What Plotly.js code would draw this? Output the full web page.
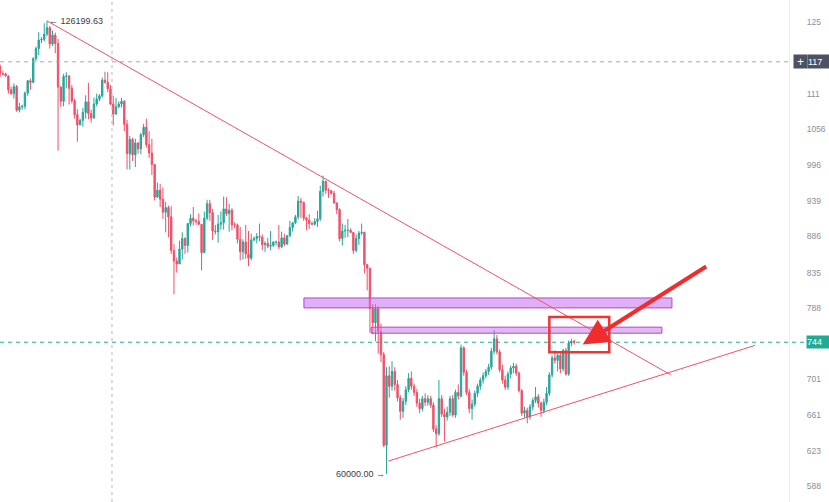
<!DOCTYPE html>
<html>
<head>
<meta charset="utf-8">
<script src="https://cdn.plot.ly/plotly-3.0.1.min.js"></script>
<style>html,body{margin:0;padding:0;background:#fff;}#chart{width:829px;height:502px;}</style>
</head>
<body>
<div id="chart"></div>
<script>
// Daily BTC candles, prices in thousands of USD, first candle 2025-09-19
const firstDay = '2025-09-19';
const openK = [
117.1,115.7,115.7,115.3,112.7,112.0,113.3,109.0,109.6,109.7,112.1,114.4,
114.1,118.6,120.6,122.3,122.4,123.5,124.8,121.5,123.3,121.6,113.2,110.6,115.2,115.3,113.0,110.7,108.2,106.4,107.2,108.6,110.5,108.4,107.6,110.1,111.0,111.6,114.5,114.1,112.9,110.1,108.3,
109.6,110.1,110.6,106.5,101.5,103.9,101.3,103.3,102.3,104.7,106.0,103.0,101.6,99.7,94.5,95.6,94.2,92.2,92.9,91.5,86.6,85.1,84.7,86.8,88.3,87.3,90.5,91.3,90.9,90.8,
90.4,86.3,91.3,93.5,92.1,89.4,89.3,90.4,90.6,92.7,92.0,92.5,90.3,90.3,88.2,86.4,87.8,86.1,85.5,88.1,88.3,88.6,88.5,87.4,87.6,87.2,87.3,87.8,87.8,87.1,88.4,
87.5,88.7,89.9,90.6,91.5,93.9,93.7,91.3,91.0,90.5,90.4,90.8,91.2,95.4,97.0,95.6,95.5,95.1,93.6,92.6,88.3,89.4,89.5,89.5,89.2,86.6,88.3,89.1,89.2,84.6,84.1,
78.7,76.9,78.7,75.8,73.0,62.9,70.5,69.3,71.0,69.5,68.0,66.5,67.6,68.9,70.2,69.3,68.6,67.4,66.8,67.9,67.5,67.9,67.2,64.6,64.1,67.9,66.2,65.9,
66.4,67.9,66.1,68.6,68.2,73.8,70.9,68.6,66.8,67.3,68.5,69.3,70.0,70.5,71.0,71.5,73.4,74.9,73.3,71.2,70.0,69.2,70.7,71.4,71.6,70.8,68.8,66.3,66.6,65.9,67.0,
67.7,68.1,67.4,66.6,67.5,68.5,70.6,72.6,72.3,72.9,71.3,73.5,70.7,74.4,74.6
];
const highK = [
117.5,116.3,115.9,115.4,113.3,113.9,113.6,110.3,110.0,112.4,114.5,114.8,
118.9,121.0,123.9,122.9,125.7,126.19963,125.1,124.2,123.8,122.5,113.4,115.7,116.0,115.5,113.6,111.1,109.2,107.5,109.4,111.7,114.0,109.1,111.3,112.0,111.9,115.0,116.1,116.0,113.6,111.6,111.2,
110.6,111.2,110.8,107.3,104.5,104.2,104.0,103.4,105.0,106.6,107.5,105.3,104.0,99.8,96.8,96.6,96.0,93.8,93.2,93.1,87.5,85.6,88.0,89.2,88.5,90.6,91.9,93.0,91.2,92.0,
90.4,92.3,94.1,94.1,92.7,90.3,91.8,92.3,94.6,94.5,93.5,92.8,90.7,90.5,90.0,88.2,90.3,89.4,89.0,88.6,89.1,90.5,88.9,87.9,88.4,89.4,87.9,88.0,90.3,89.3,89.0,
88.8,90.9,90.7,91.8,94.7,94.4,93.8,91.5,91.9,90.8,91.3,92.4,96.3,97.9,97.1,95.9,95.6,95.5,93.7,92.8,90.5,90.3,91.2,89.8,89.2,88.9,89.4,90.5,89.3,84.7,84.2,
79.3,79.3,79.0,76.8,73.3,71.5,71.6,72.2,71.5,70.0,68.3,68.0,69.3,70.8,71.0,69.6,69.0,67.9,68.2,68.5,68.3,68.2,67.5,65.0,70.0,68.3,66.8,67.0,
68.2,68.3,68.9,69.5,74.2,74.0,71.2,69.0,67.8,68.8,69.6,70.3,70.9,71.3,71.9,73.8,76.0,75.4,73.6,71.8,70.5,71.0,71.7,72.0,71.9,71.0,69.0,67.0,66.9,67.3,68.0,
69.2,68.4,67.6,67.9,69.2,70.9,72.9,73.5,73.1,73.4,73.7,73.8,74.7,74.9,74.8
];
const lowK = [
115.1,115.4,115.2,112.0,111.8,111.1,108.7,108.6,109.1,109.2,111.6,112.7,
113.9,118.2,119.3,121.7,122.0,123.1,120.6,121.1,119.7,102.0,109.6,109.7,113.0,110.0,110.2,107.5,103.5,106.4,106.1,107.5,107.4,106.8,107.5,109.7,110.6,111.3,113.9,112.3,109.9,106.3,108.2,
109.4,109.5,105.3,98.9,98.9,100.3,99.3,101.5,101.4,104.3,102.5,100.8,98.0,94.0,94.5,93.0,91.2,89.2,88.5,86.1,80.6,83.5,84.7,85.3,86.1,86.3,90.1,90.2,90.3,90.3,
83.8,86.2,91.0,90.9,88.1,88.9,87.7,89.6,89.6,91.6,89.3,89.5,89.8,87.6,85.2,85.3,85.4,84.4,85.2,87.9,87.6,87.9,86.6,86.4,86.9,86.6,87.1,87.3,86.8,86.9,87.2,
87.4,88.5,89.3,90.4,91.1,91.3,90.9,89.5,89.7,90.3,90.2,90.0,90.9,94.6,95.0,94.4,94.9,93.5,91.9,87.9,87.3,88.4,88.5,89.1,86.1,86.3,87.4,88.8,83.4,81.1,75.7,
75.5,74.6,73.1,72.1,62.7,60.0,68.0,68.8,68.8,67.6,65.6,65.8,67.2,68.6,68.9,68.2,67.0,66.3,66.5,67.1,67.1,66.9,64.3,62.7,63.9,65.9,63.3,65.5,
66.0,65.9,65.8,67.8,68.0,70.5,68.3,66.3,65.6,67.0,68.1,68.9,69.6,70.2,70.6,71.2,73.0,73.0,70.9,69.6,68.9,68.9,70.2,70.8,70.5,68.6,66.0,65.8,65.2,65.6,66.6,
67.4,66.9,65.9,66.3,67.2,68.2,70.3,71.9,71.0,70.8,71.0,70.5,70.5,74.0,74.2
];
const closeK = [
115.7,115.7,115.3,112.7,112.0,113.3,109.0,109.6,109.7,112.1,114.4,114.1,
118.6,120.6,122.3,122.4,123.5,124.8,121.5,123.3,121.6,113.2,110.6,115.2,115.3,113.0,110.7,108.2,106.4,107.2,108.6,110.5,108.4,107.6,110.1,111.0,111.6,114.5,114.1,112.9,110.1,108.3,109.6,
110.1,110.6,106.5,101.5,103.9,101.3,103.3,102.3,104.7,106.0,103.0,101.6,99.7,94.5,95.6,94.2,92.2,92.9,91.5,86.6,85.1,84.7,86.8,88.3,87.3,90.5,91.3,90.9,90.8,90.4,
86.3,91.3,93.5,92.1,89.4,89.3,90.4,90.6,92.7,92.0,92.5,90.3,90.3,88.2,86.4,87.8,86.1,85.5,88.1,88.3,88.6,88.5,87.4,87.6,87.2,87.3,87.8,87.8,87.1,88.4,87.5,
88.7,89.9,90.6,91.5,93.9,93.7,91.3,91.0,90.5,90.4,90.8,91.2,95.4,97.0,95.6,95.5,95.1,93.6,92.6,88.3,89.4,89.5,89.5,89.2,86.6,88.3,89.1,89.2,84.6,84.1,78.7,
76.9,78.7,75.8,73.0,62.9,70.5,69.3,71.0,69.5,68.0,66.5,67.6,68.9,70.2,69.3,68.6,67.4,66.8,67.9,67.5,67.9,67.2,64.6,64.1,67.9,66.2,65.9,66.4,
67.9,66.1,68.6,68.2,73.8,70.9,68.6,66.8,67.3,68.5,69.3,70.0,70.5,71.0,71.5,73.4,74.9,73.3,71.2,70.0,69.2,70.7,71.4,71.6,70.8,68.8,66.3,66.6,65.9,67.0,67.7,
68.1,67.4,66.6,67.5,68.5,70.6,72.6,72.3,72.9,71.3,73.5,70.7,74.4,74.6,74.48
];

// Price-scale tick labels (right axis) as they are visible at the chart's right edge
const tickValsK = [125.9,111.9,105.6,99.6,93.9,88.6,83.5,78.8,70.1,66.1,62.3,58.8];
const tickText  = ['125','111','1056','996','939','886','835','788','701','661','623','588'];

// Drawings
const highLabel = {date:'2025-10-06', price:126.19963, text:'← 126199.63'};
const lowLabel  = {date:'2026-02-06', price:60.0, text:'60000.00 →'};
const trendDownX = ['2025-10-06','2026-05-20'];
const trendDownY = [126.19963, 70.6];
const trendUpX = ['2026-02-06 16:00','2026-06-19 12:00'];
const trendUpY = [61.29, 74.1];
const zoneUpperX = ['2026-01-07 02:00','2026-05-20 10:00'];
const zoneUpperY = [78.8, 80.1];
const zoneLowerX = ['2026-01-31 10:00','2026-05-16 19:00'];
const zoneLowerY = [75.6, 76.35];
const focusBoxX = ['2026-04-06 00:00','2026-04-27 17:00'];
const focusBoxY = [73.27, 77.63];
const arrowTip = {date:'2026-04-18 02:00', price:74.2};
const crossDate = '2025-10-29 13:00';
const crossPrice = 118.0;
const crossPriceText = '117';
const lastPrice = 74.48;
const lastPriceText = '744';

const dates = [];
const t0 = Date.parse(firstDay + 'T00:00:00Z');
for (let i = 0; i < closeK.length; i++) {
  dates.push(new Date(t0 + i * 86400000).toISOString().slice(0, 10));
}

const UP = '#26a69a', DOWN = '#ef5068', TREND = '#ee5566';
const FONT = 'Liberation Sans, Arial, sans-serif';
const lg = v => Math.log10(v);

const trace = {
  type: 'candlestick', x: dates, open: openK, high: highK, low: lowK, close: closeK,
  increasing: {line: {color: UP, width: 1}, fillcolor: UP},
  decreasing: {line: {color: DOWN, width: 1}, fillcolor: DOWN},
  whiskerwidth: 0, hoverinfo: 'skip', showlegend: false
};

const shapes = [
  {type:'line', xref:'paper', x0:0, x1:1.02, yref:'y', y0:lastPrice, y1:lastPrice, layer:'below',
   line:{color:'#22ab94', width:1, dash:'4px,4px'}},
  {type:'line', xref:'paper', x0:0, x1:1, yref:'y', y0:crossPrice, y1:crossPrice, layer:'above',
   line:{color:'#a3a6af', width:1, dash:'4px,4px'}},
  {type:'line', xref:'x', x0:crossDate, x1:crossDate, yref:'paper', y0:0, y1:1, layer:'above',
   line:{color:'#b4b7bf', width:1, dash:'3px,4px'}},
  {type:'rect', xref:'x', yref:'y', x0:zoneUpperX[0], x1:zoneUpperX[1], y0:zoneUpperY[0], y1:zoneUpperY[1],
   fillcolor:'rgba(200,120,236,0.58)', line:{color:'#b544cf', width:1}, layer:'above'},
  {type:'rect', xref:'x', yref:'y', x0:zoneLowerX[0], x1:zoneLowerX[1], y0:zoneLowerY[0], y1:zoneLowerY[1],
   fillcolor:'rgba(200,120,236,0.52)', line:{color:'#b544cf', width:1}, layer:'above'},
  {type:'line', xref:'x', yref:'y', x0:trendDownX[0], x1:trendDownX[1], y0:trendDownY[0], y1:trendDownY[1],
   line:{color:TREND, width:1}, layer:'above'},
  {type:'line', xref:'x', yref:'y', x0:trendUpX[0], x1:trendUpX[1], y0:trendUpY[0], y1:trendUpY[1],
   line:{color:TREND, width:1}, layer:'above'},
  {type:'rect', xref:'x', yref:'y', x0:focusBoxX[0], x1:focusBoxX[1], y0:focusBoxY[0], y1:focusBoxY[1],
   fillcolor:'rgba(0,0,0,0)', line:{color:'#f03434', width:2.5}, layer:'above'}
];

const labelFont = {family:FONT, size:9, color:'#3a3d45'};
const annotations = [
  {xref:'x', yref:'y', x:highLabel.date, y:lg(highLabel.price), text:highLabel.text, showarrow:false,
   xanchor:'left', yanchor:'middle', xshift:0, font:labelFont},
  {xref:'x', yref:'y', x:lowLabel.date, y:lg(lowLabel.price), text:lowLabel.text, showarrow:false,
   xanchor:'right', yanchor:'middle', xshift:1, font:labelFont},
  {xref:'x', yref:'y', x:arrowTip.date, y:lg(arrowTip.price), text:'', showarrow:true,
   axref:'pixel', ayref:'pixel', ax:125, ay:-79, arrowhead:2, arrowsize:1.3, arrowwidth:4,
   arrowcolor:'#f02c2c', standoff:0},
  {xref:'paper', yref:'y', x:1, y:lg(crossPrice), xanchor:'left', yanchor:'middle', xshift:4,
   text:'+', showarrow:false, width:13, height:13, bgcolor:'#4c5263', borderpad:0,
   font:{family:FONT, size:12, color:'#ffffff'}},
  {xref:'paper', yref:'y', x:1, y:lg(crossPrice), xanchor:'left', yanchor:'middle', xshift:18,
   text:crossPriceText, showarrow:false, width:22, height:13, align:'left', bgcolor:'#4c5263', borderpad:0,
   font:{family:FONT, size:9, color:'#ffffff'}},
  {xref:'paper', yref:'y', x:1, y:lg(lastPrice), xanchor:'left', yanchor:'middle', xshift:17,
   text:lastPriceText, showarrow:false, width:23, height:12, align:'left', bgcolor:'#22ab94', borderpad:0,
   font:{family:FONT, size:9, color:'#ffffff'}}
];

const layout = {
  width: 829, height: 502,
  margin: {l:0, r:40, t:0, b:0, pad:0},
  paper_bgcolor:'#ffffff', plot_bgcolor:'#ffffff',
  showlegend:false,
  font:{family:FONT, size:9, color:'#8a8e97'},
  xaxis:{type:'date', range:['2025-09-18 23:15','2026-07-01 20:00'], showgrid:false, zeroline:false,
         showticklabels:false, ticks:'', showline:false, rangeslider:{visible:false}, fixedrange:true},
  yaxis:{type:'log', side:'right', range:[Math.log10(57.31), Math.log10(130.6)], tickmode:'array',
         tickvals:tickValsK, ticktext:tickText, showgrid:false, zeroline:false, showline:true,
         linecolor:'#eceef2', linewidth:1, ticks:'', ticklabelstandoff:15,
         tickfont:{family:FONT, size:8.5, color:'#8a8e97'}, fixedrange:true},
  shapes: shapes,
  annotations: annotations
};

Plotly.newPlot('chart', [trace], layout, {displayModeBar:false, staticPlot:true});
</script>
</body>
</html>
